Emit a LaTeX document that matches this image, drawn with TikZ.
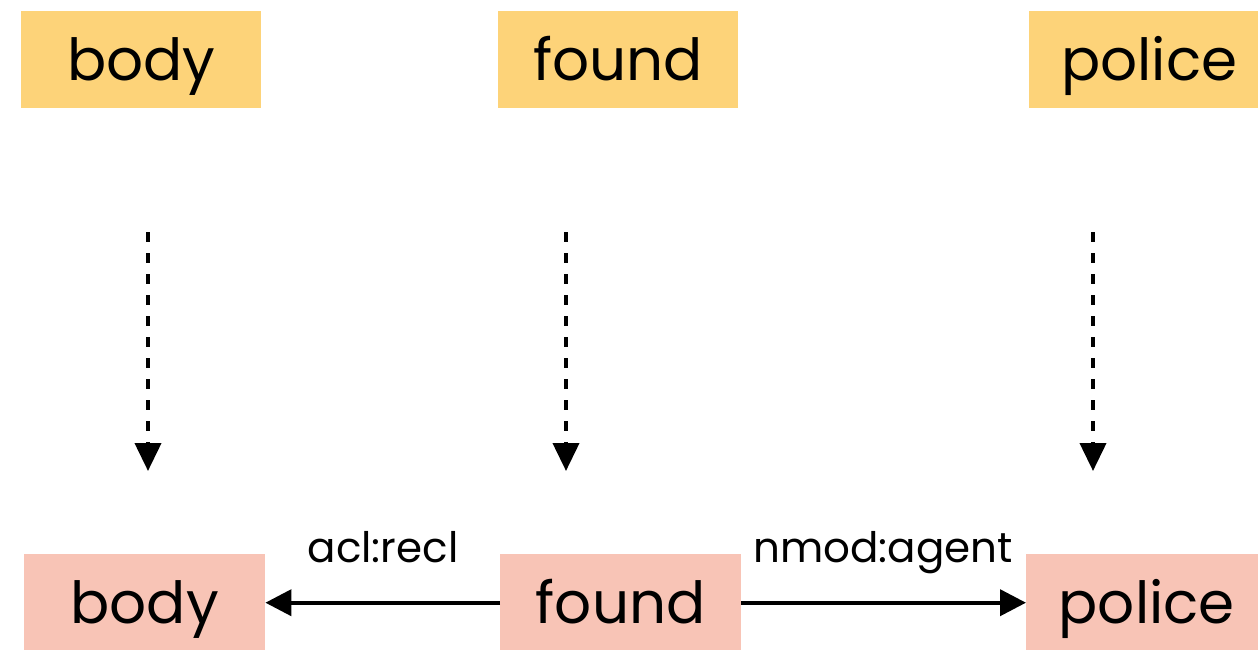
\documentclass[tikz,border=0pt]{standalone}
\usepackage{fontspec}
\setmainfont{Poppins}
\usetikzlibrary{arrows.meta}
\definecolor{wordtop}{RGB}{253,211,121}
\definecolor{wordbot}{RGB}{248,196,182}
\tikzset{
  word/.style={anchor=north west, inner sep=0pt, text height=69pt, text depth=28pt,
    text width=#1, align=center, font=\fontsize{58}{60}\selectfont},
  topword/.style={word=240pt, fill=wordtop},
  botword/.style={word=241pt, fill=wordbot},
  proj/.style={line width=4pt, dash pattern=on 10pt off 11pt,
    -{Triangle[length=28pt,width=26pt]}},
  dep/.style={line width=4pt, -{Triangle[length=26pt,width=26pt]}},
  rel/.style={font=\fontsize{42}{44}\selectfont, inner sep=0pt, anchor=base}
}
\begin{document}
\begin{tikzpicture}[x=1pt,y=-1pt]
  \useasboundingbox (0,0) rectangle (1258,649);
  % upper row
  \node[topword] (t1) at (21,11) {body};
  \node[topword] (t2) at (498,11) {found};
  \node[topword] (t3) at (1029,11) {police};
  % lower row
  \node[botword] (b1) at (24,554) {body};
  \node[botword] (b2) at (500,554) {found};
  \node[botword] (b3) at (1026,554) {police};
  % projection arrows
  \coordinate (s1) at (148,232); \coordinate (e1) at (148,471);
  \coordinate (s2) at (566,232); \coordinate (e2) at (566,471);
  \coordinate (s3) at (1093,232); \coordinate (e3) at (1093,471);
  \draw[proj] (s1) -- (e1);
  \draw[proj] (s2) -- (e2);
  \draw[proj] (s3) -- (e3);
  % dependency arcs
  \draw[dep] (b2.west) -- (b1.east);
  \draw[dep] (b2.east) -- (b3.west);
  \node[rel] (l1) at (383,562) {acl:recl};
  \node[rel] (l2) at (883,562) {nmod:agent};
\end{tikzpicture}
\end{document}
